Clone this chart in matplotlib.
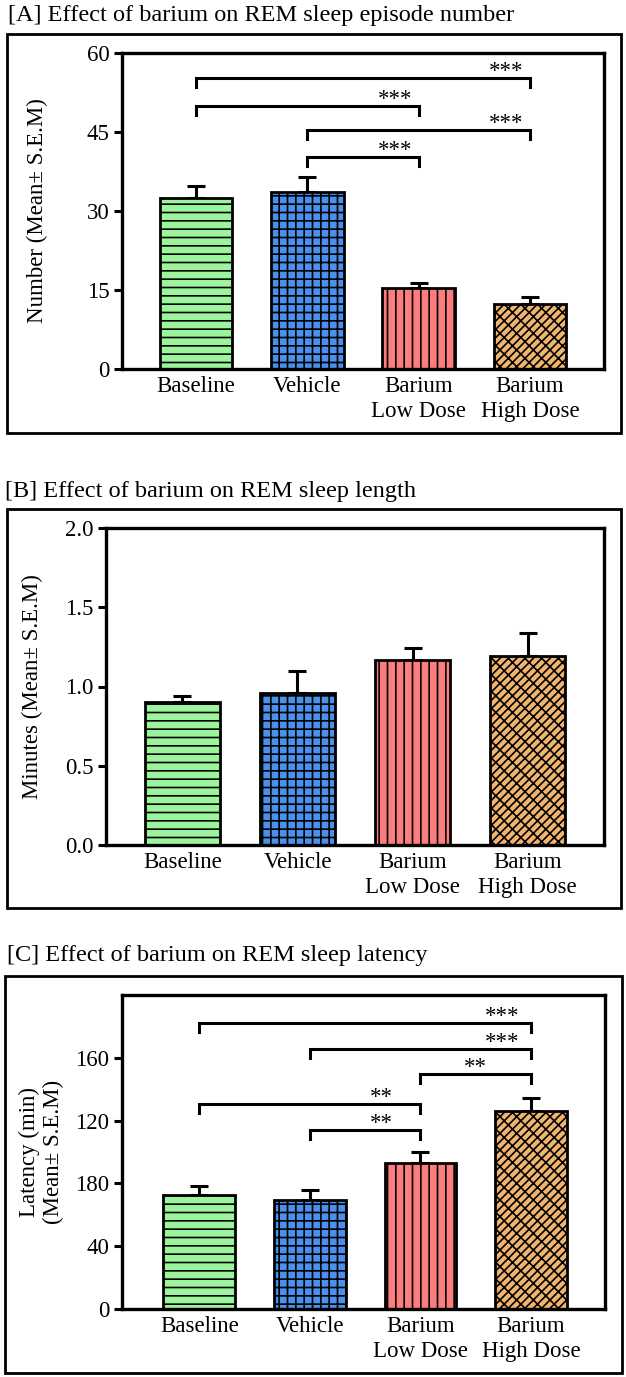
import numpy as np
import matplotlib
matplotlib.use("Agg")
import matplotlib.pyplot as plt
from matplotlib.patches import Rectangle

plt.rcParams['font.family'] = ['Liberation Serif', 'DejaVu Serif']
plt.rcParams['hatch.linewidth'] = 1.2

# data
groups = ['Baseline', 'Vehicle', 'Barium\nLow Dose', 'Barium\nHigh Dose']
bar_colors = ['#9cf59c', '#4a8fea', '#fb7d7d', '#f0b46e']
bar_hatches = ['--', '++', '||', '////\\\\']

episode_number = [32.5, 33.6, 15.4, 12.3]
episode_number_sem = [2.2, 2.9, 0.9, 1.4]

rem_length = [0.90, 0.96, 1.17, 1.19]
rem_length_sem = [0.04, 0.14, 0.07, 0.15]

rem_latency = [72.4, 69.2, 92.7, 126.3]
rem_latency_sem = [5.7, 6.4, 7.0, 8.3]

# significance brackets: (from, to, height, stars)
sig_number = [(0, 3, 55.3, '***'), (0, 2, 49.9, '***'), (1, 3, 45.4, '***'), (1, 2, 40.3, '***')]
sig_latency = [(0, 3, 182.4, '***'), (1, 3, 165.9, '***'), (2, 3, 149.8, '**'),
               (0, 2, 130.8, '**'), (1, 2, 114.3, '**')]

W, H = 626, 1377
FS = 16.5
fig = plt.figure(figsize=(W / 100, H / 100), dpi=100)


def px_axes(left, top, right, bottom):
    return fig.add_axes([left / W, 1 - bottom / H, (right - left) / W, (bottom - top) / H])


def outer_box(left, top, right, bottom):
    fig.patches.append(Rectangle((left / W, 1 - bottom / H), (right - left) / W, (bottom - top) / H,
                                 transform=fig.transFigure, fill=False, lw=2.0, ec='black'))


def draw_panel(ax, vals, sems, ylim, yticks, yticklabels, ylabel, xlim, ylab_x):
    x = np.arange(len(groups))
    ax.errorbar(x, vals, yerr=[np.zeros(len(vals)), sems], fmt='none', ecolor='black',
                elinewidth=2.2, capsize=6.5, capthick=2.2, zorder=1)
    for i in range(len(groups)):
        ax.bar(x[i], vals[i], width=0.65, color=bar_colors[i], edgecolor='black',
               linewidth=2.0, hatch=bar_hatches[i], zorder=2)
    ax.set_xlim(*xlim)
    ax.set_ylim(*ylim)
    ax.set_yticks(yticks)
    ax.set_yticklabels(yticklabels)
    ax.set_xticks(x)
    ax.set_xticklabels(groups, linespacing=1.25)
    ax.tick_params(axis='x', length=0, pad=5, labelsize=FS)
    ax.tick_params(axis='y', length=6, width=2.2, pad=3, labelsize=FS)
    for s in ax.spines.values():
        s.set_linewidth(2.4)
    ax.set_ylabel(ylabel, fontsize=FS, linespacing=1.15)
    ax.yaxis.set_label_coords(ylab_x, 0.5)


def draw_brackets(ax, sigs, star_dx, ylim):
    drop = (ylim[1] - ylim[0]) * 0.029
    for (a, b, y, label), dx in zip(sigs, star_dx):
        ax.plot([a, a, b, b], [y - drop, y, y, y - drop], color='black', lw=2.2,
                solid_joinstyle='miter', zorder=3)
        ax.annotate(label, (b - dx, y), xytext=(0, 4.5), textcoords='offset points',
                    ha='center', va='center', fontsize=FS)


# [A]
fig.text(8 / W, 1 - 16 / H, '[A] Effect of barium on REM sleep episode number',
         fontsize=17.5, va='center', ha='left')
outer_box(7, 34, 621, 433)
axA = px_axes(122, 53, 604, 369)
draw_panel(axA, episode_number, episode_number_sem, (0, 60), [0, 15, 30, 45, 60],
           ['0', '15', '30', '45', '60'], 'Number (Mean\u00b1 S.E.M)', (-0.665, 3.665), -0.154)
draw_brackets(axA, sig_number, [0.21, 0.21, 0.21, 0.21], (0, 60))

# [B]
fig.text(5 / W, 1 - 491 / H, '[B] Effect of barium on REM sleep length',
         fontsize=17.5, va='center', ha='left')
outer_box(7, 509, 621, 908)
axB = px_axes(106, 528, 604, 845)
draw_panel(axB, rem_length, rem_length_sem, (0, 2.0), [0, 0.5, 1.0, 1.5, 2.0],
           ['0.0', '0.5', '1.0', '1.5', '2.0'], 'Minutes (Mean\u00b1 S.E.M)', (-0.665, 3.665), -0.127)

# [C]
fig.text(7 / W, 1 - 956 / H, '[C] Effect of barium on REM sleep latency',
         fontsize=17.5, va='center', ha='left')
outer_box(5, 976, 622, 1373)
axC = px_axes(122, 995, 605, 1309)
draw_panel(axC, rem_latency, rem_latency_sem, (0, 200), [0, 40, 80, 120, 160],
           ['0', '40', '180', '120', '160'], 'Latency (min)\n(Mean\u00b1 S.E.M)', (-0.70, 3.67), -0.12)
draw_brackets(axC, sig_latency, [0.26, 0.26, 0.5, 0.35, 0.35], (0, 200))

fig.savefig('out.png', dpi=100)
